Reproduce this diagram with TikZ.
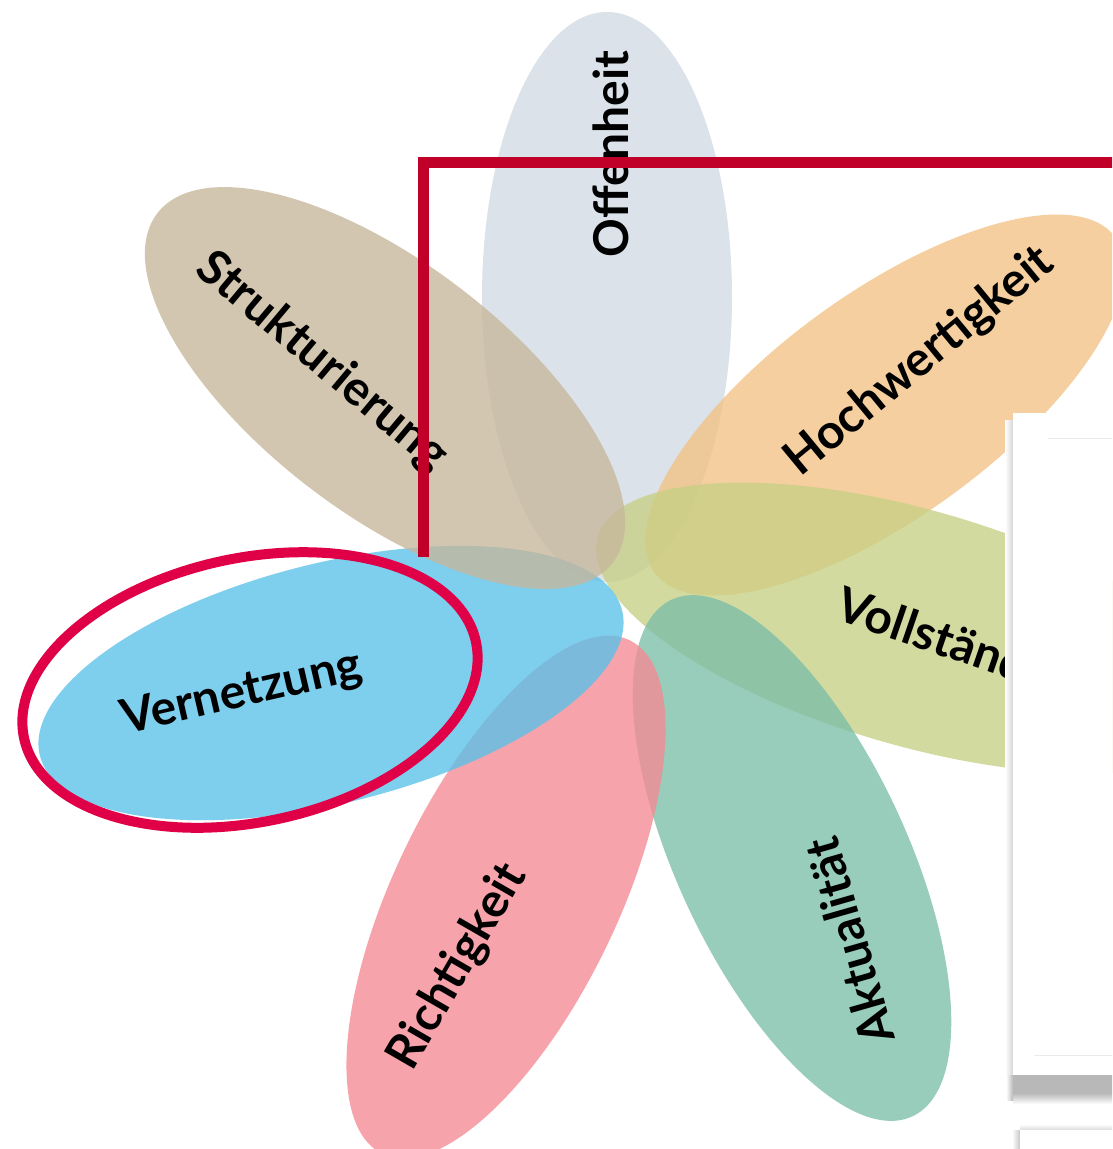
\documentclass[tikz,border=0pt]{standalone}
\usepackage{fontspec}
\setmainfont{Lato}
\begin{document}
\begin{tikzpicture}[x=1pt,y=1pt,
  petal/.style={fill opacity=0.78},
  lbl/.style={font=\fontsize{48}{52}\selectfont\bfseries, text=black, inner sep=0pt},
  frameline/.style={draw=framered, line width=11pt, line join=miter},
  hilite/.style={draw=hired, line width=10pt}]
\definecolor{cOff}{RGB}{209,218,227}
\definecolor{cStr}{RGB}{199,183,155}
\definecolor{cHoch}{RGB}{243,194,132}
\definecolor{cVoll}{RGB}{199,208,132}
\definecolor{cAkt}{RGB}{123,191,167}
\definecolor{cRicht}{RGB}{245,138,148}
\definecolor{cVer}{RGB}{90,193,234}
\definecolor{framered}{RGB}{192,0,40}
\definecolor{hired}{RGB}{224,0,72}
\useasboundingbox (0,0) rectangle (1112,-1149);
\clip (0,0) rectangle (1112,-1149);
\fill[white] (0,0) rectangle (1112,-1149);
% petals
\fill[petal, cOff, rotate around={90:(607,-297)}] (607,-297) ellipse [x radius=285, y radius=125];
\fill[petal, cHoch, rotate around={36:(885,-405)}] (885,-405) ellipse [x radius=285, y radius=112];
\fill[petal, cVoll, rotate around={-16:(915,-628)}] (915,-628) ellipse [x radius=330, y radius=118];
\fill[petal, cAkt, rotate around={-65:(792,-858)}] (792,-858) ellipse [x radius=285, y radius=115];
\fill[petal, cRicht, rotate around={64.3:(506,-897)}] (506,-897) ellipse [x radius=285, y radius=112];
\fill[petal, cVer, rotate around={14:(331,-683)}] (331,-683) ellipse [x radius=300, y radius=120];
\fill[petal, cStr, rotate around={-37.5:(385,-388)}] (385,-388) ellipse [x radius=287, y radius=125];
% labels
\node[lbl, rotate=90] (tOff) at (611,-154) {Offenheit};
\node[lbl, rotate=39.5] (tHoch) at (920,-362) {Hochwertigkeit};
\begin{scope}
\clip (0,0) rectangle (1013,-1149);
\node[lbl, rotate=-19, anchor=west] (tVoll) at (838,-606) {Vollständigkeit};
\end{scope}
\node[lbl, rotate=106] (tAkt) at (849,-941) {Aktualität};
\node[lbl, rotate=60] (tRicht) at (458,-967) {Richtigkeit};
\node[lbl, rotate=13] (tVer) at (242,-694) {Vernetzung};
\node[lbl, rotate=-40] (tStr) at (322,-362) {Strukturierung};
% red frame line
\coordinate (fA) at (423,-557);
\coordinate (fB) at (423,-162);
\coordinate (fC) at (1125,-162);
\draw[frameline] (fA) -- (fB) -- (fC);
% highlight ellipse
\draw[hilite, rotate around={12:(250,-690)}] (250,-690) ellipse [x radius=231, y radius=132];
% panel shadows
\shade[left color=white, right color=black!16] (1005,-420) rectangle (1013,-1093);
\fill[black!28] (1013,-1075) rectangle (1125,-1093);
\shade[top color=black!28, bottom color=white] (1013,-1093) rectangle (1125,-1104);
\shade[left color=white, right color=black!28] (1006,-1075) rectangle (1013,-1100);
\shade[top color=white, bottom color=black!14] (1020,-1124) rectangle (1125,-1130);
\shade[left color=white, right color=black!22] (1012,-1130) rectangle (1020,-1149);
% panels
\fill[white] (1013,-413) rectangle (1125,-1075);
\fill[white] (1020,-1130) rectangle (1125,-1149);
\draw[black!8, line width=1pt] (1048,-438) -- (1125,-438);
\draw[black!8, line width=1pt] (1034,-1055) -- (1125,-1055);
\end{tikzpicture}
\end{document}
